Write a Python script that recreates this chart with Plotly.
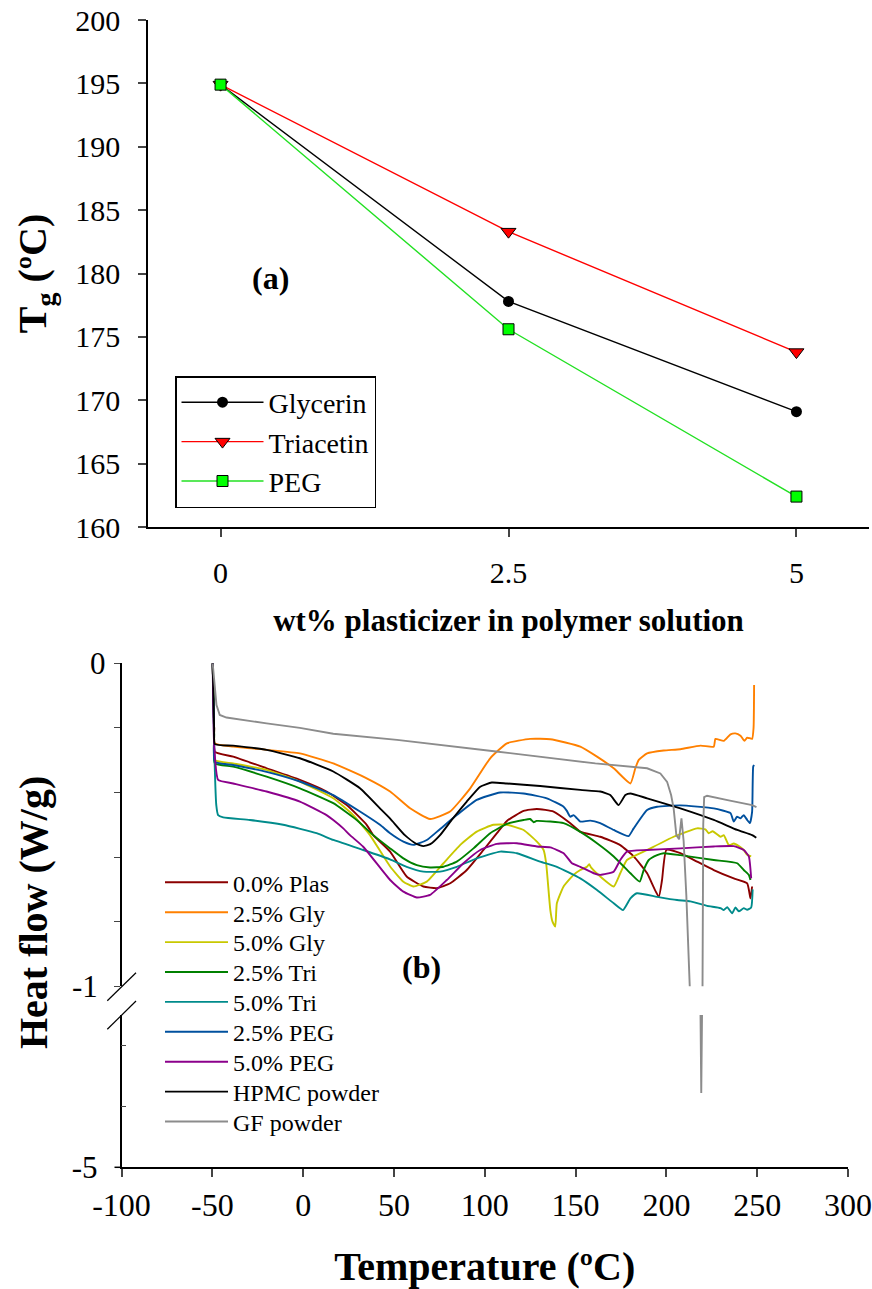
import plotly.graph_objects as go

W, H = 872, 1289
FONT = "Liberation Serif, Times New Roman, serif"

# ---------------- Panel (a): Tg vs plasticizer content ----------------
wt_pct = [0, 2.5, 5]
tg_glycerin = [194.9, 177.8, 169.1]
tg_triacetin = [194.9, 183.3, 173.8]
tg_peg = [194.9, 175.6, 162.4]
tick_a_x = [0, 2.5, 5]
tick_a_x_text = ["0", "2.5", "5"]
tick_a_y = [160, 165, 170, 175, 180, 185, 190, 195, 200]

# ---------------- Panel (b): DSC heat flow curves ----------------
t_plas = [-49.8, -49.0, -48.6, -38.5, -20.1, -1.8, 12.9, 24.0, 35.0, 38.6, 47.9, 57.0, 66.2, 73.6, 81.0, 90.1,
          99.3, 106.7, 112.2, 121.4, 128.7, 137.9, 147.1, 152.6, 163.6, 174.6, 182.0, 189.4, 195.8, 197.6, 200.0,
          207.7, 216.9, 226.1, 237.1, 244.5, 246.3, 247.2]
hf_plas = [0, -0.2, -0.274, -0.289, -0.325, -0.361, -0.397, -0.439, -0.5, -0.532, -0.583, -0.66, -0.691, -0.696,
           -0.681, -0.64, -0.578, -0.526, -0.488, -0.457, -0.451, -0.459, -0.495, -0.521, -0.537, -0.563, -0.598,
           -0.65, -0.723, -0.671, -0.578, -0.588, -0.614, -0.64, -0.666, -0.681, -0.728, -0.691]

t_gly25 = [-49.8, -49.0, -48.6, -38.5, -20.1, -1.8, 16.6, 35.0, 47.9, 58.9, 69.9, 80.9, 92.0, 103.0, 112.2, 125.0,
           136.1, 152.6, 161.8, 171.0, 180.2, 182.9, 184.8, 189.4, 198.5, 207.7, 218.8, 226.1, 227.0, 231.6, 235.3,
           238.0, 240.8, 243.0, 244.5, 247.2, 248.0, 248.3]
hf_gly25 = [0, -0.2, -0.248, -0.258, -0.268, -0.279, -0.31, -0.356, -0.397, -0.449, -0.482, -0.459, -0.387, -0.294,
            -0.248, -0.234, -0.235, -0.258, -0.289, -0.325, -0.372, -0.325, -0.299, -0.279, -0.27, -0.266, -0.255,
            -0.258, -0.234, -0.24, -0.22, -0.217, -0.224, -0.24, -0.23, -0.234, -0.2, -0.067]

t_gly50 = [-49.8, -49.0, -48.6, -38.5, -20.1, -1.8, 16.6, 27.6, 36.8, 47.9, 55.2, 60.7, 68.1, 77.3, 86.4, 95.6,
           104.8, 112.2, 121.4, 128.7, 132.4, 133.8, 136.1, 137.3, 138.8, 139.7, 143.4, 148.9, 152.6, 156.3, 157.5,
           158.5, 163.6, 171.0, 174.6, 178.3, 189.4, 204.0, 216.9, 221.5, 223.3, 225.5, 229.8, 231.6, 234.4, 237.1,
           239.9, 242.6, 244.5, 246.7]
hf_gly50 = [0, -0.22, -0.3, -0.31, -0.33, -0.366, -0.418, -0.47, -0.532, -0.629, -0.676, -0.691, -0.676, -0.619,
            -0.563, -0.521, -0.5, -0.5, -0.516, -0.552, -0.578, -0.619, -0.764, -0.8, -0.815, -0.743, -0.691, -0.655,
            -0.64, -0.63, -0.622, -0.632, -0.66, -0.691, -0.65, -0.609, -0.578, -0.537, -0.511, -0.514, -0.526,
            -0.52, -0.537, -0.532, -0.563, -0.558, -0.566, -0.578, -0.593, -0.598]

t_tri25 = [-49.8, -49.0, -48.6, -38.5, -20.1, -1.8, 16.6, 29.5, 38.6, 47.9, 55.2, 62.6, 69.9, 77.3, 84.6, 93.8,
           103.0, 112.2, 121.4, 125.0, 126.9, 128.5, 136.1, 143.4, 152.6, 161.8, 171.0, 180.2, 185.3, 187.5, 190.3,
           194.9, 198.5, 207.7, 226.1, 239.0, 242.6, 245.4, 246.3]
hf_tri25 = [0, -0.22, -0.31, -0.32, -0.351, -0.387, -0.433, -0.485, -0.532, -0.573, -0.604, -0.625, -0.632, -0.63,
            -0.614, -0.573, -0.526, -0.497, -0.485, -0.482, -0.492, -0.488, -0.49, -0.495, -0.522, -0.557, -0.598,
            -0.65, -0.676, -0.64, -0.609, -0.594, -0.588, -0.594, -0.609, -0.619, -0.64, -0.655, -0.671]

t_tri50 = [-49.8, -49.0, -47.8, -46.8, -44.0, -29.3, -11.0, 7.4, 16.6, 33.1, 47.8, 57.0, 66.2, 75.4, 84.6, 95.6,
           108.5, 117.7, 130.5, 139.7, 152.6, 161.8, 171.0, 176.1, 180.2, 183.8, 194.9, 205.9, 213.2, 222.4, 229.8,
           231.6, 233.5, 236.2, 238.0, 239.9, 242.6, 244.5, 246.7, 247.5]
hf_tri50 = [0, -0.25, -0.44, -0.47, -0.477, -0.485, -0.5, -0.526, -0.547, -0.578, -0.607, -0.63, -0.645, -0.645,
            -0.63, -0.604, -0.583, -0.588, -0.614, -0.63, -0.666, -0.702, -0.743, -0.764, -0.728, -0.712, -0.723,
            -0.733, -0.737, -0.751, -0.758, -0.764, -0.755, -0.774, -0.756, -0.768, -0.758, -0.763, -0.756, -0.7]

t_peg25 = [-49.8, -49.0, -48.6, -38.5, -20.1, -1.8, 16.6, 31.3, 42.3, 47.9, 55.2, 60.7, 68.1, 75.0, 84.6, 95.6,
           108.5, 121.4, 134.2, 143.4, 145.2, 147.1, 148.9, 150.8, 152.6, 158.1, 163.6, 171.0, 179.2, 182.0, 189.4,
           194.9, 207.7, 226.1, 235.3, 237.1, 238.9, 240.8, 242.6, 244.5, 246.0, 247.2, 247.8, 248.3]
hf_peg25 = [0, -0.22, -0.305, -0.315, -0.336, -0.366, -0.408, -0.459, -0.5, -0.526, -0.552, -0.562, -0.547, -0.515,
            -0.47, -0.423, -0.4, -0.403, -0.418, -0.444, -0.457, -0.475, -0.47, -0.48, -0.49, -0.487, -0.495, -0.516,
            -0.535, -0.511, -0.454, -0.444, -0.44, -0.449, -0.464, -0.49, -0.475, -0.48, -0.47, -0.485, -0.495,
            -0.46, -0.32, -0.315]

t_peg50 = [-49.8, -49.0, -46.8, -38.5, -20.1, -1.8, 12.9, 16.6, 22.1, 25.8, 33.1, 47.9, 55.2, 62.6, 69.9, 79.1,
           88.3, 97.5, 106.7, 117.7, 128.7, 136.1, 143.4, 148.0, 152.6, 160.0, 163.6, 171.0, 174.6, 178.3, 189.4,
           207.7, 226.1, 237.1, 242.6, 245.4, 246.7]
hf_peg50 = [0, -0.25, -0.361, -0.372, -0.397, -0.428, -0.47, -0.485, -0.511, -0.532, -0.568, -0.671, -0.707, -0.725,
            -0.717, -0.671, -0.619, -0.578, -0.559, -0.557, -0.567, -0.57, -0.588, -0.619, -0.63, -0.65, -0.655,
            -0.645, -0.609, -0.583, -0.578, -0.573, -0.567, -0.566, -0.578, -0.598, -0.666]

t_hpmc = [-49.8, -49.0, -48.6, -38.5, -20.1, -1.8, 16.6, 31.3, 42.3, 47.8, 56.0, 62.0, 66.2, 70.0, 75.4, 81.8,
          90.1, 97.5, 103.9, 112.2, 130.5, 152.6, 163.6, 169.1, 173.7, 177.4, 180.2, 189.4, 207.7, 226.1, 239.0,
          247.2, 249.5]
hf_hpmc = [0, -0.2, -0.25, -0.255, -0.268, -0.294, -0.335, -0.387, -0.449, -0.48, -0.532, -0.558, -0.566, -0.56,
           -0.532, -0.485, -0.428, -0.382, -0.369, -0.372, -0.38, -0.392, -0.397, -0.408, -0.439, -0.408, -0.403,
           -0.418, -0.449, -0.485, -0.516, -0.532, -0.54]

t_gf = [-49.8, -48.8, -47.7, -45.9, -42.2, -20.1, -1.8, 16.6, 51.7, 106.3, 152.6, 160.9, 189.4, 196.7, 200.4,
        202.6, 204.0, 205.5, 207.0, 208.3, 209.5, 211.0, 213.2, 216.0, 218.8, 219.2, 219.6, 219.9, 220.3, 220.8,
        222.4, 235.0, 247.2, 249.6]
hf_gf = [0, -0.07, -0.129, -0.16, -0.168, -0.186, -0.2, -0.218, -0.237, -0.273, -0.305, -0.31, -0.325, -0.341,
         -0.367, -0.408, -0.449, -0.532, -0.545, -0.48, -0.55, -0.72, -1.05, -1.9, -2.5, -3.78, -2.5, -1.0, -0.5,
         -0.414, -0.41, -0.425, -0.439, -0.445]

dsc_names = ["0.0% Plas", "2.5% Gly", "5.0% Gly", "2.5% Tri", "5.0% Tri", "2.5% PEG", "5.0% PEG",
             "HPMC powder", "GF powder"]
dsc_t = [t_plas, t_gly25, t_gly50, t_tri25, t_tri50, t_peg25, t_peg50, t_hpmc, t_gf]
dsc_hf = [hf_plas, hf_gly25, hf_gly50, hf_tri25, hf_tri50, hf_peg25, hf_peg50, hf_hpmc, hf_gf]
dsc_colors = ["#8b0000", "#ff8000", "#c8c800", "#008000", "#008b8b", "#00509e", "#8b008b", "#000000", "#8c8c8c"]
dsc_shapes = ["spline"] * 8 + ["linear"]

tick_b_x = [-100, -50, 0, 50, 100, 150, 200, 250, 300]
tick_b_x_text = ["-100", "-50", "0", "50", "100", "150", "200", "250", "300"]
tick_b_upper = [0, -0.2, -0.4, -0.6, -0.8, -1]
tick_b_upper_text = ["0", "", "", "", "", "-1\u00a0"]
tick_b_lower = [-5, -4, -3]
tick_b_lower_text = ["-5", "", ""]

for tt, hh in zip(dsc_t, dsc_hf):
    assert len(tt) == len(hh), (len(tt), len(hh))


def px(x):
    return x / W


def py(y):
    return 1 - y / H


fig = go.Figure()

# Panel (a) traces
fig.add_trace(go.Scatter(x=wt_pct, y=tg_glycerin, name="Glycerin", mode="lines+markers",
                         line=dict(color="black", width=1.4),
                         marker=dict(symbol="circle", size=11, color="black"),
                         xaxis="x", yaxis="y", legend="legend"))
fig.add_trace(go.Scatter(x=wt_pct, y=tg_triacetin, name="Triacetin", mode="lines+markers",
                         line=dict(color="#ff0000", width=1.4),
                         marker=dict(symbol="triangle-down", size=13, color="#ff0000",
                                     line=dict(color="black", width=1)),
                         xaxis="x", yaxis="y", legend="legend"))
fig.add_trace(go.Scatter(x=wt_pct, y=tg_peg, name="PEG", mode="lines+markers",
                         line=dict(color="#22e022", width=1.4),
                         marker=dict(symbol="square", size=11, color="#00ff00",
                                     line=dict(color="black", width=1)),
                         xaxis="x", yaxis="y", legend="legend"))

# Panel (b) traces: upper segment (0 .. -1) and lower segment (-2.5 .. -5) of the broken axis
leg_row0 = 882.7
leg_step = 29.9
for i, (nm, tt, hh, cc, sh) in enumerate(zip(dsc_names, dsc_t, dsc_hf, dsc_colors, dsc_shapes)):
    lg = "legend%d" % (i + 2)
    ln = dict(color=cc, width=1.9, shape=sh)
    if sh == "spline":
        ln["smoothing"] = 0.45
    fig.add_trace(go.Scatter(x=tt, y=hh, name=nm, mode="lines", line=ln,
                             xaxis="x2", yaxis="y2", legend=lg, showlegend=True))
    fig.add_trace(go.Scatter(x=tt, y=hh, name=nm, mode="lines", line=ln,
                             xaxis="x2", yaxis="y3", showlegend=False, hoverinfo="skip"))
    fig.update_layout(**{lg: dict(x=px(160), y=py(leg_row0 + i * leg_step), xanchor="left", yanchor="middle",
                                  bgcolor="rgba(0,0,0,0)", borderwidth=0, itemwidth=63,
                                  font=dict(family=FONT, size=24, color="black"))})

tickfont_a = dict(family=FONT, size=30, color="black")
tickfont_b = dict(family=FONT, size=31, color="black")

fig.update_layout(
    width=W, height=H,
    margin=dict(l=0, r=0, t=0, b=0, autoexpand=False),
    paper_bgcolor="white", plot_bgcolor="white",
    font=dict(family=FONT, color="black"),
    legend=dict(x=px(175), y=py(376), xanchor="left", yanchor="top",
                bgcolor="white", bordercolor="black", borderwidth=1.5, itemwidth=82,
                font=dict(family=FONT, size=28, color="black")),
    xaxis=dict(domain=[px(148), px(869)], range=[-0.63, 5.63], anchor="y", automargin=False,
               tickvals=tick_a_x, ticktext=tick_a_x_text, ticks="outside", ticklen=8, tickwidth=1.5,
               showline=True, linewidth=1.5, linecolor="black", showgrid=False, zeroline=False,
               tickfont=tickfont_a, ticklabelstandoff=10,
               title=dict(text="wt% plasticizer in polymer solution", standoff=22,
                          font=dict(family=FONT, size=31, weight="bold", color="black"))),
    yaxis=dict(domain=[py(527), py(20)], range=[160, 200], anchor="x", automargin=False,
               tickvals=tick_a_y, ticks="outside", ticklen=8, tickwidth=1.5,
               showline=True, linewidth=1.5, linecolor="black", showgrid=False, zeroline=False,
               tickfont=tickfont_a, ticklabelstandoff=12,
               title=dict(text="T<sub>g</sub> (ºC)", standoff=16,
                          font=dict(family=FONT, size=40, weight="bold", color="black"))),
    xaxis2=dict(domain=[px(121.5), px(848)], range=[-100, 300], anchor="y3", automargin=False,
                tickvals=tick_b_x, ticktext=tick_b_x_text, ticks="outside", ticklen=8, tickwidth=1.5,
                showline=True, linewidth=1.8, linecolor="black", showgrid=False, zeroline=False,
                tickfont=dict(family=FONT, size=32, color="black"), ticklabelstandoff=0,
                title=dict(text="Temperature (ºC)", standoff=36,
                           font=dict(family=FONT, size=40, weight="bold", color="black"))),
    yaxis2=dict(domain=[py(986.3), py(663.3)], range=[-1, 0], anchor="x2", automargin=False,
                tickvals=tick_b_upper, ticktext=tick_b_upper_text, ticks="outside", ticklen=6, tickwidth=1.2,
                showline=True, linewidth=1.5, linecolor="black", showgrid=False, zeroline=False,
                tickfont=tickfont_b, ticklabelstandoff=2),
    yaxis3=dict(domain=[py(1167.3), py(1015)], range=[-5, -2.5], anchor="x2", automargin=False,
                tickvals=tick_b_lower, ticktext=tick_b_lower_text, ticks="inside", ticklen=5, tickwidth=1.2,
                showline=True, linewidth=1.5, linecolor="black", showgrid=False, zeroline=False,
                tickfont=tickfont_b, ticklabelstandoff=16),
    showlegend=True,
)

# axis-break marks and small outer tick at -5
brk = dict(type="line", xref="paper", yref="paper", line=dict(color="black", width=1.2))
fig.add_shape(**brk, x0=px(107.3), y0=py(1000.7), x1=px(136), y1=py(972.7))
fig.add_shape(**brk, x0=px(107.3), y0=py(1029.3), x1=px(136), y1=py(1001))
fig.add_shape(type="line", xref="paper", yref="paper", x0=px(114.5), x1=px(121.5), y0=py(1167.3),
              y1=py(1167.3), line=dict(color="black", width=1.5))

# panel labels and the broken-axis title
ann = dict(xref="paper", yref="paper", showarrow=False, xanchor="center", yanchor="middle")
fig.add_annotation(text="(a)", x=px(270), y=py(278), **ann,
                   font=dict(family=FONT, size=32, weight="bold", color="black"))
fig.add_annotation(text="(b)", x=px(421.7), y=py(967), **ann,
                   font=dict(family=FONT, size=32, weight="bold", color="black"))
fig.add_annotation(text="Heat flow (W/g)", x=px(33), y=py(913), textangle=-90, **ann,
                   font=dict(family=FONT, size=40, weight="bold", color="black"))

fig.write_html("out.html")
